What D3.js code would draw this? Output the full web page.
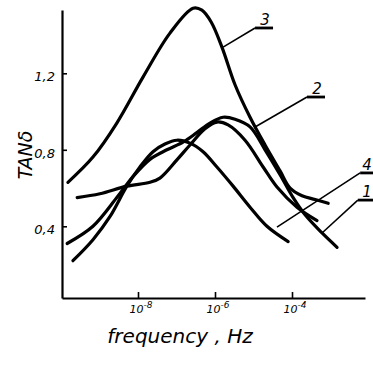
<!DOCTYPE html>
<html>
<head>
<meta charset="utf-8">
<script src="https://cdn.jsdelivr.net/npm/d3@7"></script>
<style>
  body { margin: 0; background: #fff; }
  svg text { font-family: "DejaVu Sans", sans-serif; font-style: italic; fill: #000; }
</style>
</head>
<body>
<svg id="chart" width="373" height="371"></svg>
<script>
// curves: [log10(frequency / Hz), tan delta]
var curve1 = [[-9.84,0.31],[-9.17,0.40],[-8.55,0.55],[-8.13,0.66],[-7.69,0.75],[-7.25,0.80],[-6.83,0.84],
              [-6.47,0.89],[-6.13,0.94],[-5.79,0.97],[-5.48,0.96],[-5.09,0.92],[-4.70,0.80],[-4.31,0.67],
              [-3.97,0.55],[-3.66,0.46],[-3.22,0.365],[-2.83,0.29]];
var curve2 = [[-9.58,0.55],[-8.99,0.57],[-8.29,0.61],[-7.69,0.63],[-7.43,0.652],[-6.99,0.747],[-6.65,0.825],
              [-6.26,0.91],[-5.95,0.945],[-5.66,0.93],[-5.22,0.85],[-4.75,0.71],[-4.39,0.605],[-3.87,0.50],
              [-3.35,0.43]];
var curve3 = [[-9.82,0.63],[-9.17,0.762],[-8.55,0.94],[-7.87,1.18],[-7.17,1.41],[-6.57,1.54],[-6.34,1.53],
              [-6.10,1.468],[-5.82,1.337],[-5.48,1.14],[-5.09,0.97],[-4.70,0.825],[-4.31,0.69],[-4.05,0.60],
              [-3.74,0.56],[-3.40,0.54],[-3.06,0.52]];
var curve4 = [[-9.69,0.22],[-9.17,0.33],[-8.73,0.45],[-8.29,0.61],[-7.95,0.71],[-7.61,0.79],[-7.30,0.83],
              [-6.99,0.85],[-6.65,0.835],[-6.31,0.79],[-5.95,0.71],[-5.53,0.61],[-5.09,0.50],[-4.65,0.40],
              [-4.10,0.32]];

// curve labels: tip on the curve, end of the leader (same units)
var labelNames = ["3", "2", "4", "1"];
var labelTips  = [[-5.79,1.337], [-4.96,0.919], [-4.39,0.396], [-3.22,0.365]];
var labelEnds  = [[-4.96,1.437], [-3.61,1.076], [-2.23,0.679], [-2.29,0.537]];

var xTickExps = [-8, -6, -4];
var yTicks = [0.4, 0.8, 1.2];
var yTickLabels = ["0,4", "0,8", "1,2"];

var svg = d3.select("#chart");
var x = d3.scaleLog().domain([Math.pow(10, -9.974), Math.pow(10, -2.104)]).range([62, 365]);
var y = d3.scaleLinear().domain([0.025, 1.531]).range([298, 10]);
function px(d) { return x(Math.pow(10, d[0])); }
function py(d) { return y(d[1]); }

// axes, ticks pointing inwards
var xAxis = d3.axisBottom(x).tickValues(xTickExps.map(function(e) { return Math.pow(10, e); }))
    .tickSizeInner(-6).tickSizeOuter(0).tickFormat("");
var yAxis = d3.axisLeft(y).tickValues(yTicks).tickSizeInner(-5).tickSizeOuter(0).tickFormat("");
svg.append("g").attr("transform", "translate(0," + y.range()[0] + ")").call(xAxis);
svg.append("g").attr("transform", "translate(" + x.range()[0] + ",0)").call(yAxis);
svg.selectAll(".domain").attr("stroke-width", 2.2);
svg.selectAll(".tick line").attr("stroke-width", 1.6);

// x tick labels 10^n
xTickExps.forEach(function(e) {
    var t = svg.append("text")
        .attr("x", x(Math.pow(10, e)) + 3)
        .attr("y", 313)
        .attr("text-anchor", "middle")
        .style("font-size", "11px");
    t.append("tspan").text("10");
    t.append("tspan").attr("dy", -5).style("font-size", "9px").text("-" + (-e));
});

// y tick labels
yTicks.forEach(function(v, i) {
    svg.append("text")
        .attr("x", 55)
        .attr("y", y(v) + 8)
        .attr("text-anchor", "end")
        .style("font-size", "13px")
        .text(yTickLabels[i]);
});

// axis titles
svg.append("text")
    .attr("transform", "translate(32,155) rotate(-90)")
    .attr("text-anchor", "middle")
    .style("font-size", "19px")
    .text("TANδ");
svg.append("text")
    .attr("x", 180)
    .attr("y", 343)
    .attr("text-anchor", "middle")
    .style("font-size", "20px")
    .text("frequency , Hz");

// curves
var line = d3.line().x(px).y(py).curve(d3.curveCatmullRom.alpha(0.5));
svg.selectAll(".curve")
    .data([curve1, curve2, curve3, curve4])
    .enter().append("path")
    .attr("class", "curve")
    .attr("d", line)
    .attr("fill", "none")
    .attr("stroke", "#000")
    .attr("stroke-width", 3.2)
    .attr("stroke-linecap", "round");

// leaders, underlines and numbers
labelNames.forEach(function(name, i) {
    var a = labelTips[i], b = labelEnds[i];
    svg.append("line")
        .attr("x1", px(a)).attr("y1", py(a))
        .attr("x2", px(b)).attr("y2", py(b))
        .attr("stroke", "#000").attr("stroke-width", 1.6);
    svg.append("line")
        .attr("x1", px(b)).attr("y1", py(b))
        .attr("x2", px(b) + 18).attr("y2", py(b))
        .attr("stroke", "#000").attr("stroke-width", 2.8);
    svg.append("text")
        .attr("x", Math.min(px(b) + 10, 367))
        .attr("y", py(b) - 3)
        .attr("text-anchor", "middle")
        .style("font-size", "15px")
        .text(name);
});
</script>
</body>
</html>
